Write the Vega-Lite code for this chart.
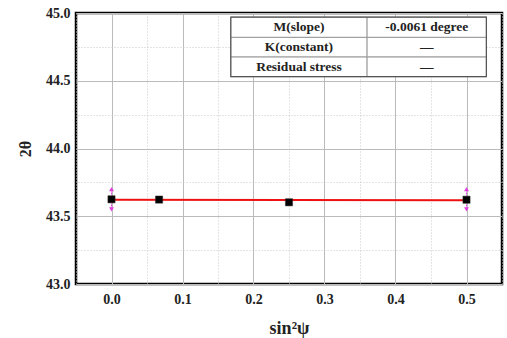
{
  "$schema": "https://vega.github.io/schema/vega-lite/v6.json",
  "width": 426,
  "height": 271,
  "autosize": "none",
  "padding": {"left": 76, "top": 13, "right": 5, "bottom": 54},
  "background": "white",
  "config": {
    "view": {"stroke": "black", "strokeWidth": 2.5},
    "font": "Liberation Serif",
    "axis": {"labelFont": "Liberation Serif", "titleFont": "Liberation Serif", "labelFontWeight": "bold", "titleFontWeight": "bold", "labelColor": "#222", "titleColor": "#222"}
  },
  "datasets": {
    "pts": [
      {"x": 0.0, "y": 43.625},
      {"x": 0.067, "y": 43.623},
      {"x": 0.25, "y": 43.603},
      {"x": 0.5, "y": 43.622}
    ],
    "fit": [
      {"x": 0.0, "y": 43.622},
      {"x": 0.5, "y": 43.619}
    ],
    "err": [
      {"x": 0.0, "lo": 43.55, "hi": 43.70},
      {"x": 0.5, "lo": 43.55, "hi": 43.70}
    ],
    "cells": [
      {"x1": 0.168, "x2": 0.36, "y1": 44.82, "y2": 44.97, "label": "M(slope)"},
      {"x1": 0.36, "x2": 0.528, "y1": 44.82, "y2": 44.97, "label": "-0.0061 degree"},
      {"x1": 0.168, "x2": 0.36, "y1": 44.675, "y2": 44.82, "label": "K(constant)"},
      {"x1": 0.36, "x2": 0.528, "y1": 44.675, "y2": 44.82, "label": "—"},
      {"x1": 0.168, "x2": 0.36, "y1": 44.53, "y2": 44.675, "label": "Residual stress"},
      {"x1": 0.36, "x2": 0.528, "y1": 44.53, "y2": 44.675, "label": "—"}
    ],
    "frame": [
      {"x1": 0.168, "x2": 0.528, "y1": 44.53, "y2": 44.97}
    ]
  },
  "resolve": {"axis": {"x": "independent", "y": "independent"}},
  "layer": [
    {
      "data": {"name": "pts"},
      "mark": {"type": "point", "opacity": 0},
      "encoding": {
        "x": {"field": "x", "type": "quantitative", "scale": {"domain": [-0.05, 0.55], "nice": false, "zero": false},
          "axis": {"orient": "top", "values": [-0.05, 0.05, 0.15, 0.25, 0.35, 0.45, 0.55], "labels": false, "ticks": false, "domain": false, "title": null, "grid": true, "gridDash": [1, 2], "gridColor": "#c8c8c8", "gridWidth": 1}},
        "y": {"field": "y", "type": "quantitative", "scale": {"domain": [43.0, 45.0], "nice": false, "zero": false},
          "axis": {"orient": "right", "values": [43.25, 43.75, 44.25, 44.75], "labels": false, "ticks": false, "domain": false, "title": null, "grid": true, "gridDash": [1, 2], "gridColor": "#c8c8c8", "gridWidth": 1}}
      }
    },
    {
      "data": {"name": "pts"},
      "mark": {"type": "point", "opacity": 0},
      "encoding": {
        "x": {"field": "x", "type": "quantitative",
          "axis": {"orient": "bottom", "values": [0, 0.1, 0.2, 0.3, 0.4, 0.5], "format": ".1f", "title": "sin²ψ", "titleFontSize": 18, "titlePadding": 13, "labelFontSize": 14, "labelPadding": 8, "ticks": false, "domain": false, "grid": true, "gridColor": "#bbb", "gridWidth": 1}},
        "y": {"field": "y", "type": "quantitative",
          "axis": {"orient": "left", "values": [43.0, 43.5, 44.0, 44.5, 45.0], "format": ".1f", "title": "2θ", "titleFontSize": 16, "titlePadding": 12, "labelFontSize": 14, "labelPadding": 6, "ticks": false, "domain": false, "grid": true, "gridColor": "#bbb", "gridWidth": 1}}
      }
    },
    {
      "data": {"name": "cells"},
      "mark": {"type": "rect", "fill": "white", "stroke": "#999", "strokeWidth": 1},
      "encoding": {
        "x": {"field": "x1", "type": "quantitative", "axis": null},
        "x2": {"field": "x2"},
        "y": {"field": "y1", "type": "quantitative", "axis": null},
        "y2": {"field": "y2"}
      }
    },
    {
      "data": {"name": "frame"},
      "mark": {"type": "rect", "fill": null, "stroke": "#555", "strokeWidth": 1.2},
      "encoding": {
        "x": {"field": "x1", "type": "quantitative", "axis": null},
        "x2": {"field": "x2"},
        "y": {"field": "y1", "type": "quantitative", "axis": null},
        "y2": {"field": "y2"}
      }
    },
    {
      "data": {"name": "cells"},
      "transform": [{"calculate": "(datum.x1 + datum.x2) / 2", "as": "xm"}, {"calculate": "(datum.y1 + datum.y2) / 2", "as": "ym"}],
      "mark": {"type": "text", "font": "Liberation Serif", "fontWeight": "bold", "fontSize": 13.5, "color": "#222", "baseline": "middle", "align": "center"},
      "encoding": {
        "x": {"field": "xm", "type": "quantitative", "axis": null},
        "y": {"field": "ym", "type": "quantitative", "axis": null},
        "text": {"field": "label"}
      }
    },
    {
      "data": {"name": "err"},
      "mark": {"type": "rule", "color": "#e040e0", "strokeWidth": 1, "strokeDash": [2, 1]},
      "encoding": {
        "x": {"field": "x", "type": "quantitative", "axis": null},
        "y": {"field": "lo", "type": "quantitative", "axis": null},
        "y2": {"field": "hi"}
      }
    },
    {
      "data": {"name": "err"},
      "mark": {"type": "point", "shape": "triangle-up", "filled": true, "color": "#e040e0", "size": 24, "opacity": 1},
      "encoding": {
        "x": {"field": "x", "type": "quantitative", "axis": null},
        "y": {"field": "hi", "type": "quantitative", "axis": null}
      }
    },
    {
      "data": {"name": "err"},
      "mark": {"type": "point", "shape": "triangle-down", "filled": true, "color": "#e040e0", "size": 24, "opacity": 1},
      "encoding": {
        "x": {"field": "x", "type": "quantitative", "axis": null},
        "y": {"field": "lo", "type": "quantitative", "axis": null}
      }
    },
    {
      "data": {"name": "fit"},
      "mark": {"type": "line", "color": "#ee1111", "strokeWidth": 2},
      "encoding": {
        "x": {"field": "x", "type": "quantitative", "axis": null},
        "y": {"field": "y", "type": "quantitative", "axis": null}
      }
    },
    {
      "data": {"name": "pts"},
      "mark": {"type": "square", "color": "black", "filled": true, "size": 52, "opacity": 1, "stroke": "#333", "strokeWidth": 0.5},
      "encoding": {
        "x": {"field": "x", "type": "quantitative", "axis": null},
        "y": {"field": "y", "type": "quantitative", "axis": null}
      }
    }
  ]
}
